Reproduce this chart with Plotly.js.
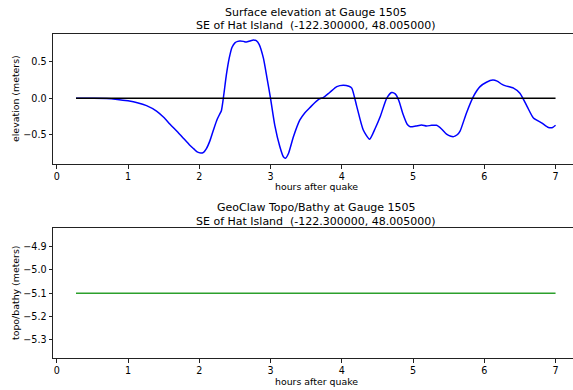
<!DOCTYPE html>
<html>
<head>
<meta charset="utf-8">
<script src="https://cdn.plot.ly/plotly-3.0.1.min.js"></script>
<style>html,body{margin:0;padding:0;background:#fff;}#chart{width:573px;height:390px;}</style>
</head>
<body>
<div id="chart"></div>
<script>
// hours after quake
var hours = [0.27,0.5,0.7,0.85,1.0,1.13,1.26,1.40,1.50,1.59,1.70,1.78,1.86,1.92,1.97,2.02,2.06,2.10,2.15,2.20,2.25,2.29,2.31,2.34,2.38,2.42,2.46,2.50,2.54,2.57,2.62,2.66,2.71,2.76,2.80,2.84,2.90,2.95,3.00,3.06,3.13,3.18,3.21,3.25,3.32,3.41,3.48,3.55,3.62,3.68,3.74,3.83,3.93,4.02,4.10,4.14,4.21,4.30,4.39,4.47,4.54,4.63,4.70,4.75,4.80,4.86,4.92,4.96,5.04,5.12,5.19,5.26,5.33,5.40,5.47,5.53,5.57,5.62,5.66,5.75,5.85,5.94,6.03,6.12,6.18,6.25,6.30,6.41,6.50,6.60,6.69,6.81,6.90,6.96,7.0];
// surface elevation (meters)
var elevation = [0,0,-0.002,-0.015,-0.035,-0.06,-0.10,-0.175,-0.26,-0.355,-0.465,-0.55,-0.635,-0.69,-0.735,-0.75,-0.74,-0.69,-0.58,-0.43,-0.29,-0.21,-0.17,0.02,0.32,0.55,0.70,0.76,0.78,0.785,0.78,0.77,0.785,0.80,0.79,0.74,0.55,0.28,0.0,-0.37,-0.66,-0.80,-0.82,-0.76,-0.53,-0.30,-0.20,-0.13,-0.06,-0.01,0.01,0.08,0.16,0.18,0.165,0.14,-0.11,-0.43,-0.56,-0.41,-0.25,0.0,0.08,0.06,-0.03,-0.22,-0.36,-0.39,-0.38,-0.365,-0.38,-0.37,-0.37,-0.42,-0.49,-0.52,-0.525,-0.50,-0.45,-0.20,0.03,0.16,0.22,0.25,0.235,0.19,0.17,0.14,0.07,-0.11,-0.27,-0.34,-0.40,-0.40,-0.37];
// reference line endpoints and level
var refHours = [0.27, 7.0];
var refLevel = [0, 0];
// topo/bathy (meters)
var topoHours = [0.27, 7.0];
var topo = [-5.1, -5.1];

var elevTicks = [-0.5, 0.0, 0.5];
var topoTicks = [-5.3, -5.2, -5.1, -5.0, -4.9];
var hourTicks = [0,1,2,3,4,5,6,7];

var traces = [
  {x: hours, y: elevation, type:'scatter', mode:'lines', line:{color:'#0000ff', width:1.5, shape:'spline', smoothing:0.6}, xaxis:'x', yaxis:'y', hoverinfo:'skip'},
  {x: refHours, y: refLevel, type:'scatter', mode:'lines', line:{color:'#000000', width:1.5}, xaxis:'x', yaxis:'y', hoverinfo:'skip'},
  {x: topoHours, y: topo, type:'scatter', mode:'lines', line:{color:'#2ca02c', width:1.5}, xaxis:'x2', yaxis:'y2', hoverinfo:'skip'}
];

var fontFam = 'DejaVu Sans, sans-serif';
function xax(anchor){
  return {anchor:anchor, domain:[0,1], range:[-0.053,7.245], tickvals:hourTicks, ticktext:hourTicks.map(String),
    showgrid:false, zeroline:false, showline:true, mirror:true, linecolor:'#222', linewidth:1,
    ticks:'outside', ticklen:3.5, tickwidth:1, tickcolor:'#222', tickfont:{family:fontFam, size:9.6, color:'#000'}, fixedrange:true};
}
function yax(anchor, dom, rng, tv){
  return {anchor:anchor, domain:dom, range:rng, tickvals:tv, tickformat:'.1f',
    showgrid:false, zeroline:false, showline:true, mirror:false, linecolor:'#222', linewidth:1,
    ticks:'outside', ticklen:3.5, tickwidth:1, tickcolor:'#222', tickfont:{family:fontFam, size:9.6, color:'#000'}, fixedrange:true};
}

var cx = (316-53)/520;
function ann(text, x, y, size, angle){
  return {text:text, xref:'paper', yref:'paper', x:x, y:y, xanchor:'center', yanchor:'middle', showarrow:false,
    font:{family:fontFam, size:size, color:'#000'}, textangle:angle||0};
}
function py(p){ return (358-p)/324; }
function px(p){ return (p-53)/520; }

var layout = {
  width:573, height:390,
  margin:{l:53, r:0, t:34, b:32, pad:0},
  paper_bgcolor:'#fff', plot_bgcolor:'#fff',
  showlegend:false,
  xaxis: xax('y'),
  yaxis: yax('x', [py(164),1], [-0.900,0.881], elevTicks),
  xaxis2: xax('y2'),
  yaxis2: yax('x2', [0, py(228.3)], [-5.378,-4.822], topoTicks),
  annotations:[
    ann('Surface elevation at Gauge 1505', cx, py(13), 11),
    ann('SE of Hat Island  (-122.300000, 48.005000)', cx, py(26), 11),
    ann('GeoClaw Topo/Bathy at Gauge 1505', cx, py(208), 11),
    ann('SE of Hat Island  (-122.300000, 48.005000)', cx, py(221), 11),
    ann('hours after quake', cx, py(186.5), 9.4),
    ann('hours after quake', cx, py(381), 9.4),
    ann('elevation (meters)', px(15), py(99), 9.4, -90),
    ann('topo/bathy (meters)', px(15), py(293), 9.4, -90)
  ]
};

Plotly.newPlot('chart', traces, layout, {staticPlot:true, displayModeBar:false});
</script>
</body>
</html>
